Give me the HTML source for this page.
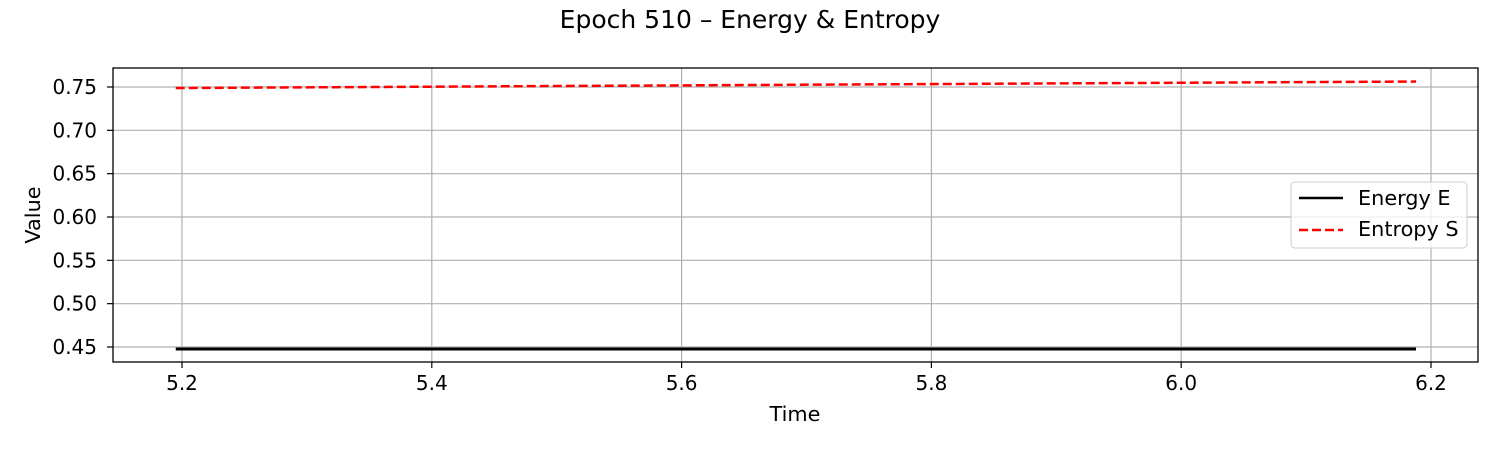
<!DOCTYPE html>
<html><head><meta charset="utf-8"><style>
body{margin:0;background:#fff;}
svg text{font-family:"DejaVu Sans","Liberation Sans",sans-serif;fill:#000;}
</style></head><body>
<svg id="chart" width="1500" height="450" xmlns="http://www.w3.org/2000/svg">
<rect width="1500" height="450" fill="#fff"/>
<text x="750" y="28" text-anchor="middle" font-size="25">Epoch 510 – Energy &amp; Entropy</text>
<g id="grid"></g>
<g id="series"></g>
<rect x="113" y="68" width="1365" height="294" fill="none" stroke="#000" stroke-width="1.3"/>
<g id="ticks"></g>
<text x="795" y="421" text-anchor="middle" font-size="20.8">Time</text>
<text x="40" y="215" text-anchor="middle" font-size="20.8" transform="rotate(-90 40 215)">Value</text>
<g>
<rect x="1291" y="182" width="176" height="66" rx="4" fill="#fff" fill-opacity="0.8" stroke="#ccc"/>
<line x1="1299" y1="198" x2="1343" y2="198" stroke="#000" stroke-width="2.5"/>
<text x="1358" y="205" font-size="20.8">Energy E</text>
<line x1="1299" y1="230" x2="1343" y2="230" stroke="#f00" stroke-width="2.5" stroke-dasharray="9,4"/>
<text x="1358" y="236" font-size="20.8">Entropy S</text>
</g>
</svg>
<script>
const times = [5.195, 5.295, 5.394, 5.493, 5.592, 5.692, 5.791, 5.890, 5.989, 6.089, 6.188];
const energy = [0.4477, 0.4477, 0.4477, 0.4477, 0.4477, 0.4477, 0.4477, 0.4477, 0.4477, 0.4477, 0.4477];
const entropy = [0.7488, 0.7496, 0.7503, 0.7511, 0.7518, 0.7526, 0.7533, 0.7541, 0.7548, 0.7556, 0.7563];
const xTicks = [5.2, 5.4, 5.6, 5.8, 6.0, 6.2];
const yTicks = [0.45, 0.50, 0.55, 0.60, 0.65, 0.70, 0.75];
const NS = 'http://www.w3.org/2000/svg';
function xs(v){return 182 + (v-5.2)*1249;}
function ys(v){return 347 - (v-0.45)*(260/0.30);}
function mk(tag, attrs, parent){const e=document.createElementNS(NS,tag);for(const k in attrs)e.setAttribute(k,attrs[k]);parent.appendChild(e);return e;}
const grid=document.getElementById('grid'), ticks=document.getElementById('ticks'), series=document.getElementById('series');
xTicks.forEach(t=>{
  const x=xs(t);
  const g=mk('line',{x1:x,x2:x,y1:68,y2:362,stroke:'#b0b0b0','stroke-width':1.2},grid);
  
  
  mk('line',{x1:x,x2:x,y1:362,y2:368,stroke:'#000','stroke-width':1.2},ticks);
  const tx=mk('text',{x:x,y:390,'text-anchor':'middle','font-size':20},ticks);
  tx.textContent=t.toFixed(1);
  
  
});
yTicks.forEach(t=>{
  const y=ys(t);
  const g=mk('line',{x1:113,x2:1478,y1:y,y2:y,stroke:'#b0b0b0','stroke-width':1.2},grid);
  
  
  mk('line',{x1:107,x2:113,y1:y,y2:y,stroke:'#000','stroke-width':1.2},ticks);
  const tx=mk('text',{x:97,y:y+7,'text-anchor':'end','font-size':20},ticks);
  tx.textContent=t.toFixed(2);
  
  
});
const pe=mk('polyline',{points:times.map((t,i)=>xs(t)+','+ys(energy[i])).join(' '),fill:'none',stroke:'#000','stroke-width':3},series);


const ps=mk('polyline',{points:times.map((t,i)=>xs(t)+','+ys(entropy[i])).join(' '),fill:'none',stroke:'#f00','stroke-width':2.5,'stroke-dasharray':'9,4'},series);


</script>
</body></html>
